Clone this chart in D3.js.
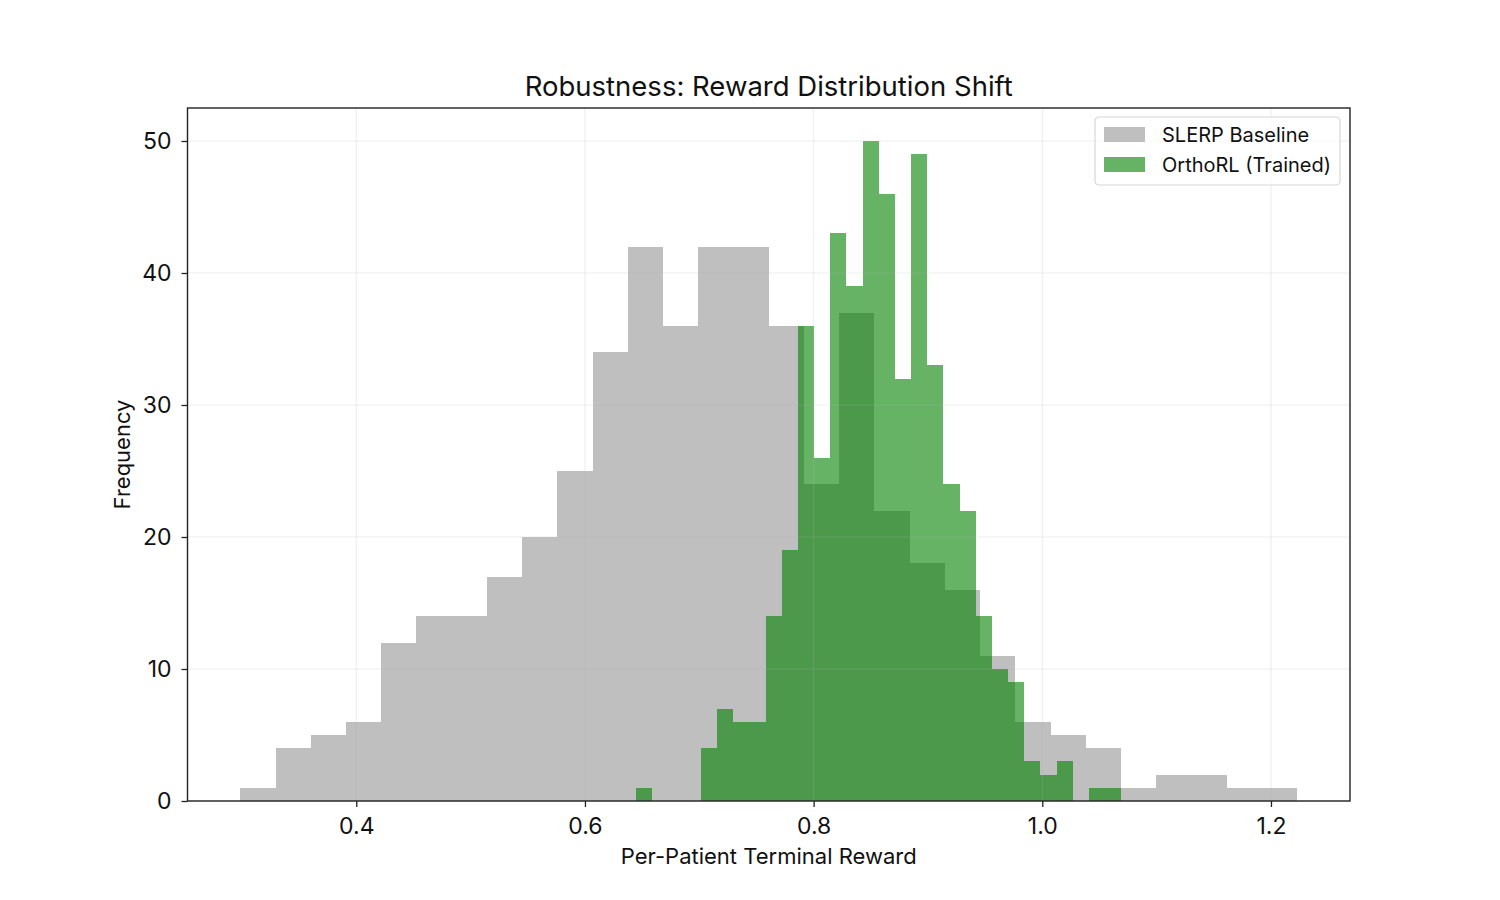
<!DOCTYPE html>
<html>
<head>
<meta charset="utf-8">
<script src="https://cdn.jsdelivr.net/npm/d3@7"></script>
<style>
  body { margin: 0; background: #fff; }
  text { font-family: Inter, "Open Sans", sans-serif; fill: #111; }
</style>
</head>
<body>
<svg id="chart" width="1500" height="900"></svg>
<script>
// histogram counts, 30 bins each
var baselineRange = [0.2986, 1.2229];
var baselineCounts = [1, 4, 5, 6, 12, 14, 14, 17, 20, 25, 34, 42, 36, 42, 42,
                      36, 24, 37, 22, 18, 16, 11, 6, 5, 4, 1, 2, 2, 1, 1];
var trainedRange = [0.6449, 1.0690];
var trainedCounts = [1, 0, 0, 0, 4, 7, 6, 6, 14, 19, 36, 26, 43, 39, 50,
                     46, 32, 49, 33, 24, 22, 14, 10, 9, 3, 2, 3, 0, 1, 1];
var xTicks = [0.4, 0.6, 0.8, 1.0, 1.2];
var yTicks = [0, 10, 20, 30, 40, 50];
var seriesNames = ["SLERP Baseline", "OrthoRL (Trained)"];

var margin = { top: 108, right: 150, bottom: 99, left: 187.5 };
var width = 1500 - margin.left - margin.right;
var height = 900 - margin.top - margin.bottom;

function toBins(range, counts) {
  var w = (range[1] - range[0]) / counts.length;
  return counts.map(function (c, i) {
    return { x0: range[0] + i * w, x1: range[0] + (i + 1) * w, n: c };
  });
}

var baselineBins = toBins(baselineRange, baselineCounts);
var trainedBins = toBins(trainedRange, trainedCounts);

// 5% padding like matplotlib autoscale
var span = baselineRange[1] - baselineRange[0];
var xScale = d3.scaleLinear()
  .domain([baselineRange[0] - span * 0.05, baselineRange[1] + span * 0.05])
  .range([0, width]);

var yScale = d3.scaleLinear()
  .domain([0, 52.5])
  .range([height, 0]);

var svg = d3.select("#chart");
var g = svg.append("g")
  .attr("transform", "translate(" + margin.left + "," + margin.top + ")");

function drawBars(bins, color, alpha, cls) {
  g.append("g")
    .attr("class", cls)
    .attr("shape-rendering", "crispEdges")
    .selectAll("rect")
    .data(bins)
    .enter()
    .append("rect")
    .attr("x", function (d) { return xScale(d.x0); })
    .attr("y", function (d) { return yScale(d.n); })
    .attr("width", function (d) { return xScale(d.x1) - xScale(d.x0); })
    .attr("height", function (d) { return yScale(0) - yScale(d.n); })
    .attr("fill", color)
    .attr("fill-opacity", alpha);
}

drawBars(baselineBins, "#808080", 0.5, "baseline");
drawBars(trainedBins, "#008000", 0.6, "trained");

// grid on top of the bars
var grid = g.append("g").attr("class", "grid");
grid.selectAll(".gx")
  .data(xTicks)
  .enter()
  .append("line")
  .attr("x1", function (d) { return xScale(d); })
  .attr("x2", function (d) { return xScale(d); })
  .attr("y1", 0)
  .attr("y2", height);
grid.selectAll(".gy")
  .data(yTicks)
  .enter()
  .append("line")
  .attr("x1", 0)
  .attr("x2", width)
  .attr("y1", function (d) { return yScale(d); })
  .attr("y2", function (d) { return yScale(d); });
grid.selectAll("line")
  .attr("stroke", "#b0b0b0")
  .attr("stroke-opacity", 0.22)
  .attr("stroke-width", 1.1);

var xAxis = d3.axisBottom(xScale)
  .tickValues(xTicks)
  .tickSize(6)
  .tickPadding(11)
  .tickFormat(d3.format(".1f"));

var yAxis = d3.axisLeft(yScale)
  .tickValues(yTicks)
  .tickSize(6)
  .tickPadding(10);

var gx = g.append("g")
  .attr("transform", "translate(0," + height + ")")
  .call(xAxis);
var gy = g.append("g").call(yAxis);

[gx, gy].forEach(function (ax) {
  ax.select(".domain").remove();
  ax.selectAll(".tick line").attr("stroke", "#222").attr("stroke-width", 1.3);
  ax.selectAll(".tick text").style("font-size", "23px").attr("fill", "#111");
});

// frame
g.append("rect")
  .attr("width", width)
  .attr("height", height)
  .attr("fill", "none")
  .attr("stroke", "#222")
  .attr("stroke-width", 1.4);

g.append("text")
  .attr("x", width / 2)
  .attr("y", -12)
  .attr("text-anchor", "middle")
  .style("font-size", "27.5px")
  .text("Robustness: Reward Distribution Shift");

g.append("text")
  .attr("x", width / 2)
  .attr("y", height + 63)
  .attr("text-anchor", "middle")
  .style("font-size", "22px")
  .text("Per-Patient Terminal Reward");

g.append("text")
  .attr("transform", "translate(" + (-58) + "," + (height / 2) + ") rotate(-90)")
  .attr("text-anchor", "middle")
  .style("font-size", "22px")
  .text("Frequency");

// legend
var legend = g.append("g")
  .attr("transform", "translate(" + (width - 255) + ",9)");
legend.append("rect")
  .attr("width", 245)
  .attr("height", 68)
  .attr("rx", 4)
  .attr("fill", "#fff")
  .attr("fill-opacity", 0.8)
  .attr("stroke", "#d6d6d6")
  .attr("stroke-width", 1.2);

var legendColors = [["#808080", 0.5], ["#008000", 0.6]];
legend.selectAll(".legend-rect")
  .data(seriesNames)
  .enter()
  .append("rect")
  .attr("class", "legend-rect")
  .attr("x", 9)
  .attr("y", function (d, i) { return 10 + i * 30; })
  .attr("width", 41)
  .attr("height", 15)
  .attr("fill", function (d, i) { return legendColors[i][0]; })
  .attr("fill-opacity", function (d, i) { return legendColors[i][1]; });

legend.selectAll(".legend-label")
  .data(seriesNames)
  .enter()
  .append("text")
  .attr("class", "legend-label")
  .attr("x", 67)
  .attr("y", function (d, i) { return 25 + i * 30; })
  .style("font-size", "20px")
  .text(function (d) { return d; });
</script>
</body>
</html>
